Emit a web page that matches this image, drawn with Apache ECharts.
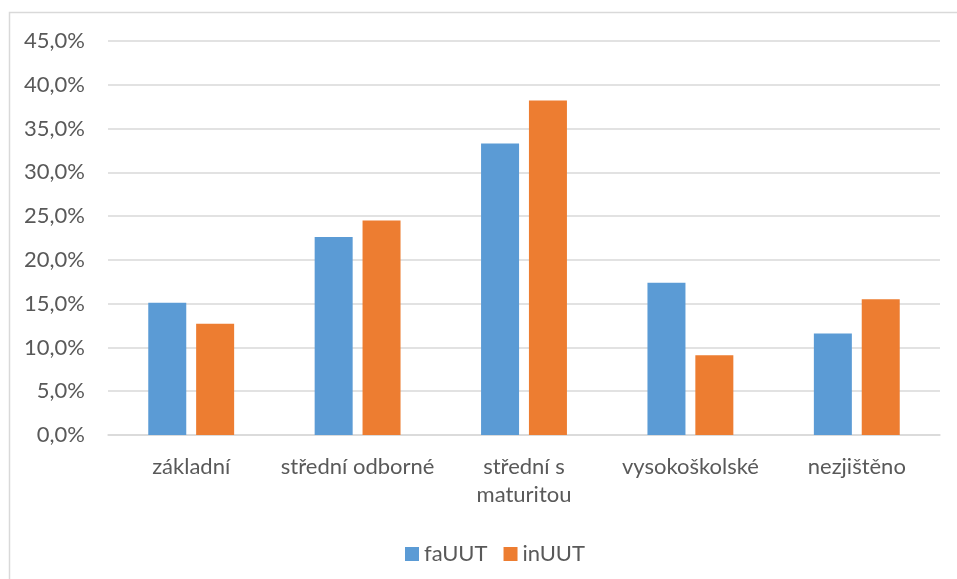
<!DOCTYPE html>
<html>
<head>
<meta charset="utf-8">
<script src="https://cdn.jsdelivr.net/npm/echarts@6/dist/echarts.min.js"></script>
<style>html,body{margin:0;padding:0;background:#fff}#c{width:957px;height:579px}</style>
</head>
<body>
<div id="c"></div>
<script>
const categories = ['základní', 'střední odborné', 'střední s\nmaturitou', 'vysokoškolské', 'nezjištěno'];
const seriesNames = ['faUUT', 'inUUT'];
const faUUT = [15.1, 22.6, 33.3, 17.4, 11.6];
const inUUT = [12.7, 24.5, 38.2, 9.1, 15.5];
const yTicks = { min: 0, max: 45, interval: 5 };

const FONT = 'Lato';
const chart = echarts.init(document.getElementById('c'));
chart.setOption({
  backgroundColor: '#fff',
  animation: false,
  graphic: [{
    type: 'rect', silent: true,
    shape: { x: 9.5, y: 12.5, width: 980, height: 600 },
    style: { fill: 'none', stroke: '#d9d9d9', lineWidth: 1.5 }
  }],
  grid: { left: 108, right: 17, top: 41, bottom: 144, containLabel: false },
  legend: {
    data: seriesNames,
    left: 400, top: 538,
    itemWidth: 14, itemHeight: 14, itemGap: 16,
    icon: 'rect',
    textStyle: { fontFamily: FONT, fontSize: 22, color: '#595959' }
  },
  xAxis: {
    type: 'category',
    data: categories,
    axisLine: { lineStyle: { color: '#d9d9d9', width: 1.5 } },
    axisTick: { show: false },
    axisLabel: { fontFamily: FONT, fontSize: 22, color: '#595959', margin: 18, lineHeight: 28, interval: 0 }
  },
  yAxis: {
    type: 'value',
    min: yTicks.min, max: yTicks.max, interval: yTicks.interval,
    axisLine: { show: false },
    axisTick: { show: false },
    splitLine: { lineStyle: { color: '#d9d9d9', width: 1.5 } },
    axisLabel: {
      fontFamily: FONT, fontSize: 22, color: '#595959', margin: 23,
      formatter: v => v.toFixed(1).replace('.', ',') + '%'
    }
  },
  series: [
    { name: seriesNames[0], type: 'bar', data: faUUT, barWidth: 38, barGap: '26%', itemStyle: { color: '#5B9BD5' } },
    { name: seriesNames[1], type: 'bar', data: inUUT, barWidth: 38, barGap: '26%', itemStyle: { color: '#ED7D31' } }
  ]
});
</script>
</body>
</html>
